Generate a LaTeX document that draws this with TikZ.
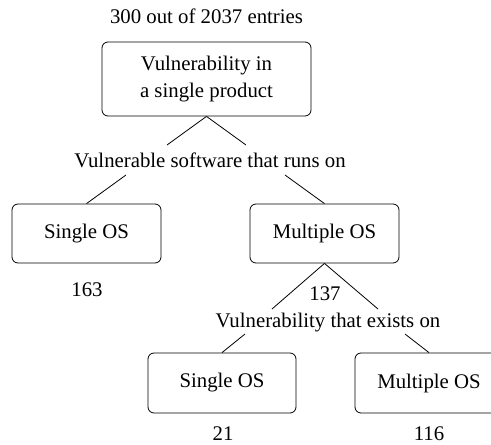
\documentclass[tikz,border=0pt]{standalone}
\usepackage{fontspec}
\setmainfont{Liberation Serif}
\begin{document}
\begin{tikzpicture}[x=1pt,y=-1pt,
  txt/.style={font=\fontsize{20.8}{27}\selectfont, inner sep=0pt},
  box/.style={draw, line width=0.8pt, rounded corners=6pt, align=center, font=\fontsize{20.8}{27}\selectfont, inner sep=0pt},
  link/.style={line width=0.8pt}]
\useasboundingbox (0,0) rectangle (491,445);
% boxes
\node[box, minimum width=209pt, minimum height=74pt] (top) at (206.5,79) {Vulnerability in\\a single product};
\node[box, minimum width=149pt, minimum height=59pt] (left) at (86.5,233.5) {Single OS};
\node[box, minimum width=149pt, minimum height=59pt] (mid) at (324.5,233.5) {Multiple OS};
\node[box, minimum width=148pt, minimum height=60pt] (bl) at (222,383) {Single OS};
\node[box, minimum width=148pt, minimum height=60pt] (br) at (429,383) {Multiple OS};
% texts
\node[txt, anchor=base] (title) at (206.5,23) {300 out of 2037 entries};
\node[txt, anchor=base] (q1) at (210,167) {Vulnerable software that runs on};
\node[txt, anchor=base] (n163) at (87,296) {163};
\node[txt, anchor=base] (n137) at (325,300) {137};
\node[txt, anchor=base] (q2) at (328,327) {Vulnerability that exists on};
\node[txt, anchor=base] (n21) at (223,440) {21};
\node[txt, anchor=base] (n116) at (429,440) {116};
% connector ends
\coordinate (c1) at (167,145);
\coordinate (c2) at (246,145);
\coordinate (c3) at (126,175);
\coordinate (c4) at (285,175);
\coordinate (c5) at (272,309);
\coordinate (c6) at (378,309);
\coordinate (c7) at (245,334);
\coordinate (c8) at (405,334);
% connectors
\draw[link] (top.south) -- (c1);
\draw[link] (top.south) -- (c2);
\draw[link] (c3) -- (left.north);
\draw[link] (c4) -- (mid.north);
\draw[link] (mid.south) -- (c5);
\draw[link] (mid.south) -- (c6);
\draw[link] (c7) -- (bl.north);
\draw[link] (c8) -- (br.north);
\end{tikzpicture}
\end{document}
